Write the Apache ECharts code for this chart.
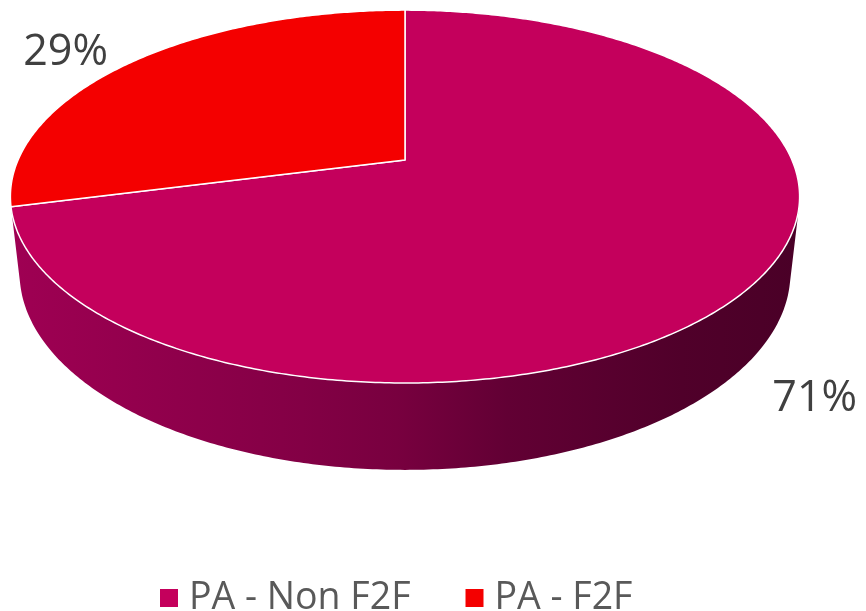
<!DOCTYPE html>
<html><head><meta charset="utf-8">
<script src="https://cdn.jsdelivr.net/npm/echarts@6/dist/echarts.min.js"></script>
<style>html,body{margin:0;padding:0;background:#fff}#c{width:866px;height:611px}</style>
</head><body><div id="c"></div>
<script>
// ---- data ----
const categories = ['PA - Non F2F', 'PA - F2F'];
const values = [71, 29];
const colors = ['#C4005C', '#F40000'];

// ---- layout / projection constants ----
const total = values.reduce((a, b) => a + b, 0);
const CX = 405, CY = 160;
const K = 1749, D = 4.52, ALPHA = 27.6 * Math.PI / 180, H = 0.2245;
const SA = Math.sin(ALPHA), CA = Math.cos(ALPHA);
const thetaS = Math.acos(-1 / (D * CA)); // silhouette angle
function proj(theta, r, z) {
  const x = r * Math.sin(theta), y = r * Math.cos(theta);
  const depth = D + y * CA - z * SA;
  const up = y * SA + z * CA;
  return [CX + K * x / depth, CY - K * up / depth];
}
function shade(hex, f) {
  const n = parseInt(hex.slice(1), 16);
  const r = Math.round(((n >> 16) & 255) * f), g = Math.round(((n >> 8) & 255) * f), b = Math.round((n & 255) * f * 1.12);
  return 'rgb(' + r + ',' + g + ',' + Math.min(255, b) + ')';
}
function wallFill(i) {
  const stops = [[0, 0.81], [0.37, 0.67], [0.49, 0.61], [0.63, 0.5], [0.85, 0.41], [1, 0.38]];
  return new echarts.graphic.LinearGradient(CX - 395, 0, CX + 395, 0,
    stops.map(s => ({ offset: s[0], color: shade(colors[i], s[1]) })), true);
}
function makeRender(i) {
  return function (params, api) {
    let start = 0;
    for (let j = 0; j < i; j++) start += values[j];
    const v = api.value(0);
    const t0 = start / total * 2 * Math.PI, t1 = (start + v) / total * 2 * Math.PI;
    const children = [];
    const w0 = Math.max(t0, thetaS), w1 = Math.min(t1, 2 * Math.PI - thetaS);
    if (w1 > w0) {
      const pts = [];
      const n = Math.ceil((w1 - w0) / 0.01);
      for (let k = 0; k <= n; k++) pts.push(proj(w0 + (w1 - w0) * k / n, 1, 0));
      for (let k = n; k >= 0; k--) pts.push(proj(w0 + (w1 - w0) * k / n, 1, -H));
      children.push({ type: 'polygon', z2: 1, shape: { points: pts }, style: { fill: wallFill(i) } });
    }
    const top = [proj(0, 0, 0)];
    const n2 = Math.ceil((t1 - t0) / 0.01);
    for (let k = 0; k <= n2; k++) top.push(proj(t0 + (t1 - t0) * k / n2, 1, 0));
    children.push({ type: 'polygon', z2: 10, shape: { points: top },
      style: { fill: colors[i], stroke: '#ffffff', lineWidth: 1.5, lineJoin: 'round' } });
    const tm = (t0 + t1) / 2;
    const yy = Math.cos(tm), xx = Math.sin(tm);
    const front = yy < 0;
    const p = proj(tm, front ? 1.08 : 1.1, front ? -1.25 * H : 0);
    children.push({ type: 'text', z2: 20, x: p[0], y: p[1],
      style: { text: Math.round(v / total * 100) + '%', fill: '#404040',
        font: '43px "Open Sans"', align: xx >= 0 ? 'left' : 'right', verticalAlign: 'middle' } });
    return { type: 'group', children: children };
  };
}
const chart = echarts.init(document.getElementById('c'), null, { renderer: 'canvas' });
chart.setOption({
  animation: false,
  color: colors,
  legend: {
    data: categories, left: 155, top: 574, icon: 'rect', itemWidth: 18, itemHeight: 18, itemGap: 55,
    textStyle: { fontFamily: 'Open Sans', fontSize: 37.5, color: '#595959', padding: [0, 0, 0, 6] }
  },
  series: categories.map((c, i) => ({
    type: 'custom', name: c, coordinateSystem: 'none',
    itemStyle: { color: colors[i] },
    data: [[values[i]]],
    renderItem: makeRender(i)
  }))
});
</script></body></html>
